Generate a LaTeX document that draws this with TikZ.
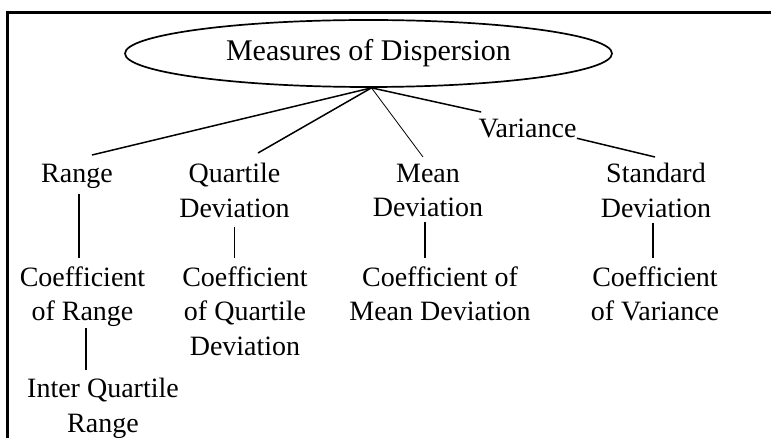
\documentclass[tikz,border=0pt]{standalone}
\usepackage{fontspec}
\setmainfont{Liberation Serif}
\usetikzlibrary{shapes.geometric,positioning}

\begin{document}
\begin{tikzpicture}[x=0.5pt,y=-0.5pt,
    lbl/.style={align=center,inner sep=0pt,anchor=north,font=\fontsize{14}{17.25}\selectfont},
    link/.style={line width=0.75pt},
    drop/.style={line width=0.75pt,shorten <=3pt,shorten >=4pt}]
  \useasboundingbox (0,0) rectangle (771,438);
  % frame (runs off at right and bottom)
  \draw[line width=1.5pt] (7,438) -- (7,13) -- (771,13);
  % top
  \node[draw,ellipse,line width=0.85pt,inner sep=0pt,minimum width=243.5pt,minimum height=33.5pt,
        font=\fontsize{15}{18}\selectfont] (mdisp) at (368.5,53.5) {Measures of Dispersion};
  \coordinate (hub) at ([xshift=1.5pt]mdisp.south);
  % measures
  \node[lbl] (range) at (77,163.5) {Range};
  \node[lbl] (qdev) at (234.5,163) {Quartile\\Deviation};
  \node[lbl] (mdev) at (428,163.5) {Mean\\Deviation};
  \node[lbl] (var) at (527.5,118.5) {Variance};
  \node[lbl] (sdev) at (656,163) {Standard\\Deviation};
  % coefficients
  \node[lbl] (cofr) at (82.5,266) {Coefficient\\of Range};
  \node[lbl] (cofq) at (245,266) {Coefficient\\of Quartile\\Deviation};
  \node[lbl] (cofm) at (440,266) {Coefficient of\\Mean Deviation};
  \node[lbl] (cofv) at (655,266) {Coefficient\\of Variance};
  \node[lbl] (iqr) at (103,378) {Inter Quartile\\Range};
  % links from the top
  \draw[link] (hub) -- ([xshift=7.5pt,yshift=4.25pt]range.north);
  \draw[link] (hub) -- ([xshift=11.75pt,yshift=5pt]qdev.north);
  \draw[line width=0.4pt] (hub) -- ([xshift=-2.5pt,yshift=3.25pt]mdev.north);
  \draw[link] (hub) -- ([xshift=1.5pt,yshift=3.25pt]var.north west);
  \draw[link] (var.south east) -- ([xshift=-0.5pt,yshift=3pt]sdev.north);
  % down to the coefficients
  \draw[drop,shorten <=2.5pt] ([xshift=1pt]range.south) -- ([xshift=1pt]range.south |- cofr.north);
  \draw[drop,shorten <=4.5pt] (qdev.south) -- (qdev.south |- cofq.north);
  \draw[drop,shorten <=2.5pt] ([xshift=-1.5pt]mdev.south) -- ([xshift=-1.5pt]mdev.south |- cofm.north);
  \draw[drop,shorten <=2.5pt] ([xshift=-1.5pt]sdev.south) -- ([xshift=-1.5pt]sdev.south |- cofv.north);
  \draw[drop,shorten <=0.5pt,shorten >=4pt] ([xshift=1.75pt]cofr.south) -- ([xshift=1.75pt]cofr.south |- iqr.north);
\end{tikzpicture}
\end{document}
